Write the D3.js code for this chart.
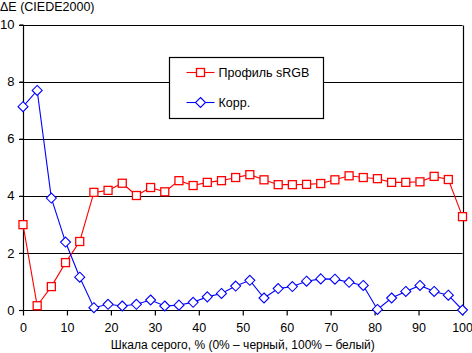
<!DOCTYPE html>
<html>
<head>
<meta charset="utf-8">
<script src="https://cdn.jsdelivr.net/npm/d3@7"></script>
<style>
  body { margin: 0; background: #fff; }
  svg { display: block; font-family: "Liberation Sans", Arial, sans-serif; }
</style>
</head>
<body>
<div id="chart"></div>
<script>
// gray scale steps, 32 points from 0 to 100 %
const steps = d3.range(32).map((i) => i * 100 / 31);

const srgbValues = [2.99, 0.15, 0.82, 1.66, 2.40, 4.12, 4.19, 4.44, 4.01, 4.29,
  4.14, 4.53, 4.36, 4.47, 4.53, 4.64, 4.74, 4.56, 4.39, 4.39,
  4.40, 4.43, 4.56, 4.70, 4.64, 4.60, 4.47, 4.47, 4.49, 4.68,
  4.57, 3.27];

const corrValues = [7.12, 7.69, 3.92, 2.38, 1.15, 0.08, 0.20, 0.14, 0.20, 0.35,
  0.14, 0.17, 0.27, 0.46, 0.58, 0.84, 1.04, 0.42, 0.75, 0.82,
  1.01, 1.09, 1.08, 0.97, 0.86, 0.02, 0.42, 0.65, 0.86, 0.65,
  0.52, 0.00];

const xTicks = [0, 10, 20, 30, 40, 50, 60, 70, 80, 90, 100];
const yTicks = [0, 2, 4, 6, 8, 10];

const width = 472;
const height = 353;
const margin = { top: 24.5, right: 9.5, bottom: 43, left: 23 };

const svg = d3.select('#chart').append('svg')
  .attr('width', width)
  .attr('height', height);

const x = d3.scaleLinear().domain([0, 100]).range([margin.left, width - margin.right]);
const y = d3.scaleLinear().domain([0, 10]).range([height - margin.bottom, margin.top]);

// grid lines with small ticks at left
svg.append('g')
  .selectAll('line')
  .data(yTicks.filter((d) => d > 0))
  .join('line')
  .attr('x1', margin.left - 4)
  .attr('x2', width - margin.right)
  .attr('y1', (d) => Math.round(y(d)) + 0.5)
  .attr('y2', (d) => Math.round(y(d)) + 0.5)
  .attr('stroke', '#000')
  .attr('stroke-width', 1.2);

// right border
svg.append('line')
  .attr('x1', Math.round(x(100)) + 0.5)
  .attr('x2', Math.round(x(100)) + 0.5)
  .attr('y1', Math.round(y(10)) + 0.5)
  .attr('y2', Math.round(y(0)) + 0.5)
  .attr('stroke', '#000')
  .attr('stroke-width', 1.2);

// y axis
const yAxis = svg.append('g')
  .attr('transform', `translate(${Math.round(x(0)) + 0.5},0)`)
  .call(d3.axisLeft(y).tickValues(yTicks).tickSize(4).tickPadding(5).tickFormat(d3.format('d')));
yAxis.select('.domain').attr('stroke-width', 1.2).attr('d', `M0,${Math.round(y(10)) + 0.5}V${Math.round(y(0)) + 0.5}`);
yAxis.selectAll('.tick line').attr('stroke-width', 1.2);
yAxis.selectAll('text').attr('font-size', 13).attr('fill', '#000')
  .attr('font-family', '"Liberation Sans", Arial, sans-serif');

// x axis
const xAxis = svg.append('g')
  .attr('transform', `translate(0,${Math.round(y(0)) + 0.5})`)
  .call(d3.axisBottom(x).tickValues(xTicks).tickSize(5).tickPadding(8).tickFormat(d3.format('d')));
xAxis.select('.domain').attr('stroke-width', 1.2).attr('d', `M${margin.left - 4},0H${Math.round(x(100)) + 0.5}`);
xAxis.selectAll('.tick line').attr('stroke-width', 1.2);
xAxis.selectAll('text').attr('font-size', 12.5).attr('fill', '#000')
  .attr('font-family', '"Liberation Sans", Arial, sans-serif');
// keep the last label inside the picture
xAxis.selectAll('.tick').filter((d) => d === 100).select('text')
  .attr('text-anchor', 'end').attr('dx', 10);

// titles
svg.append('text')
  .attr('x', 0)
  .attr('y', 11)
  .attr('font-size', 12.5)
  .text('ΔE (CIEDE2000)');

svg.append('text')
  .attr('x', (x(0) + x(100)) / 2)
  .attr('y', 349)
  .attr('text-anchor', 'middle')
  .attr('font-size', 12)
  .text('Шкала серого, % (0% – черный, 100% – белый)');

const line = d3.line().x((d) => x(d[0])).y((d) => y(d[1]));

const series = [
  { name: 'Профиль sRGB', color: '#ff0000', shape: 'square', values: srgbValues },
  { name: 'Корр.', color: '#0000ff', shape: 'diamond', values: corrValues },
];

function marker(sel, shape, color) {
  if (shape === 'square') {
    sel.append('rect')
      .attr('x', -4).attr('y', -4)
      .attr('width', 8).attr('height', 8)
      .attr('fill', '#fff')
      .attr('stroke', color)
      .attr('stroke-width', 1.3);
  } else {
    sel.append('path')
      .attr('d', 'M0,-5L5,0L0,5L-5,0Z')
      .attr('fill', '#fff')
      .attr('stroke', color)
      .attr('stroke-width', 1.1);
  }
}

series.forEach((s) => {
  const pts = steps.map((d, i) => [d, s.values[i]]);
  svg.append('path')
    .datum(pts)
    .attr('d', line)
    .attr('fill', 'none')
    .attr('stroke', s.color)
    .attr('stroke-width', 1.1);
  svg.append('g')
    .selectAll('g')
    .data(pts)
    .join('g')
    .attr('transform', (d) => `translate(${x(d[0])},${y(d[1])})`)
    .each(function () { marker(d3.select(this), s.shape, s.color); });
});

// legend
const legend = svg.append('g').attr('transform', 'translate(169.5,57.5)');
legend.append('rect')
  .attr('width', 154)
  .attr('height', 61)
  .attr('fill', '#fff')
  .attr('stroke', '#000')
  .attr('stroke-width', 1.2);

series.forEach((s, i) => {
  const g = legend.append('g').attr('transform', `translate(0,${15 + i * 30})`);
  g.append('line')
    .attr('x1', 17).attr('x2', 45)
    .attr('stroke', s.color)
    .attr('stroke-width', 1.1);
  marker(g.append('g').attr('transform', 'translate(31,0)'), s.shape, s.color);
  g.append('text')
    .attr('x', 49)
    .attr('y', 4.5)
    .attr('font-size', 12.5)
    .text(s.name);
});
</script>
</body>
</html>
